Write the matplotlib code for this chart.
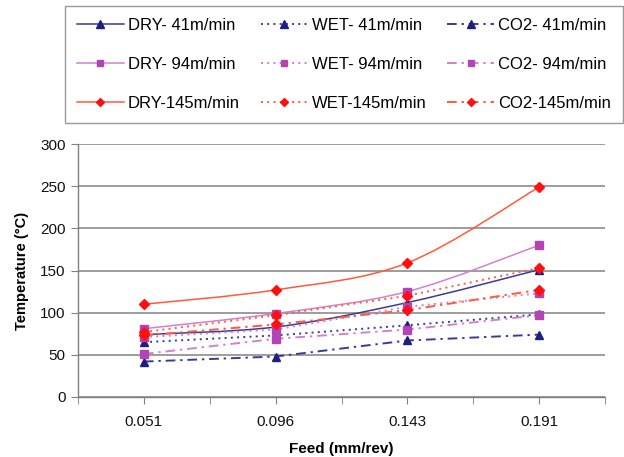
import matplotlib
matplotlib.use("Agg")
import matplotlib.pyplot as plt
from matplotlib.path import Path
from matplotlib.patches import PathPatch
from matplotlib.lines import Line2D
import numpy as np

plt.rcParams['font.family'] = ['Liberation Sans', 'DejaVu Sans']

feeds = ["0.051", "0.096", "0.143", "0.191"]

dry_41 = [74, 83, 112, 151]
wet_41 = [65, 73, 85, 98]
co2_41 = [42, 48, 67, 74]
dry_94 = [81, 99, 125, 180]
wet_94 = [71, 80, 107, 123]
co2_94 = [51, 69, 80, 97]
dry_145 = [110, 127, 159, 249]
wet_145 = [77, 97, 120, 153]
co2_145 = [73, 86, 103, 127]

labels = {
    "dry_41": "DRY- 41m/min", "wet_41": "WET- 41m/min", "co2_41": "CO2- 41m/min",
    "dry_94": "DRY- 94m/min", "wet_94": "WET- 94m/min", "co2_94": "CO2- 94m/min",
    "dry_145": "DRY-145m/min", "wet_145": "WET-145m/min", "co2_145": "CO2-145m/min",
}

navy_line, navy_mk = "#3b3b96", "#1f1f80"
pink_line, pink_mk = "#cf82cf", "#b444b4"
red_line, red_mk = "#ff5a3c", "#ff1010"

dotted = (0, (1, 2.2))
dashdot = (0, (5, 2.5, 1.2, 2.5))

series = [
    ("dry_41", dry_41, navy_line, navy_mk, "-", "^", 6, True),
    ("dry_94", dry_94, pink_line, pink_mk, "-", "s", 5.5, True),
    ("dry_145", dry_145, red_line, red_mk, "-", "D", 5, True),
    ("wet_41", wet_41, navy_line, navy_mk, dotted, "^", 6, False),
    ("wet_94", wet_94, pink_line, pink_mk, dotted, "s", 5.5, False),
    ("wet_145", wet_145, red_line, red_mk, dotted, "D", 5, False),
    ("co2_41", co2_41, navy_line, navy_mk, dashdot, "^", 6, False),
    ("co2_94", co2_94, pink_line, pink_mk, dashdot, "s", 5.5, False),
    ("co2_145", co2_145, red_line, red_mk, dashdot, "D", 5, False),
]

fig = plt.figure(figsize=(6.24, 4.57), dpi=100)
ax = fig.add_axes([78/624, 1-397/457, 527/624, 253/457])

x = np.arange(len(feeds))


def smooth_path(xs, ys):
    pts = np.column_stack([xs, ys]).astype(float)
    n = len(pts)
    verts = [pts[0]]
    codes = [Path.MOVETO]
    for i in range(n - 1):
        p0 = pts[i - 1] if i > 0 else pts[i]
        p1 = pts[i]
        p2 = pts[i + 1]
        p3 = pts[i + 2] if i + 2 < n else pts[i + 1]
        c1 = p1 + (p2 - p0) / 6.0
        c2 = p2 - (p3 - p1) / 6.0
        verts += [c1, c2, p2]
        codes += [Path.CURVE4] * 3
    return Path(verts, codes)


handles = {}
for key, vals, lc, mc, ls, mk, ms, smooth in series:
    if smooth:
        patch = PathPatch(smooth_path(x, vals), fill=False, edgecolor=lc,
                          linewidth=1.1, linestyle=ls, zorder=3)
        ax.add_patch(patch)
        ax.plot(x, vals, linestyle="none", marker=mk, markersize=ms,
                color=mc, zorder=4)
    else:
        ax.plot(x, vals, linestyle=ls, color=lc, linewidth=1.4, zorder=3)
        ax.plot(x, vals, linestyle="none", marker=mk, markersize=ms,
                color=mc, zorder=4)
    handles[key] = Line2D([], [], color=lc, linestyle=ls,
                          linewidth=1.1 if smooth else 1.4,
                          marker=mk, markersize=ms - 0.5,
                          markerfacecolor=mc, markeredgecolor=mc)

ax.set_xlim(-0.5, 3.5)
ax.set_ylim(0, 300)
ax.set_yticks(np.arange(0, 301, 50))
ax.set_xticks(x)
ax.set_xticklabels(feeds)
ax.set_xticks(np.arange(-0.5, 3.51, 0.5), minor=True)
ax.yaxis.grid(True, color="#8c8c8c", linewidth=1.2)
ax.set_axisbelow(True)
for s in ["top", "right"]:
    ax.spines[s].set_visible(False)
for s in ["left", "bottom"]:
    ax.spines[s].set_color("#808080")
    ax.spines[s].set_linewidth(1.0)
ax.tick_params(axis="both", which="both", color="#808080", length=5,
               labelsize=11, labelcolor="#111111")
ax.tick_params(axis="x", which="major", pad=8)
ax.tick_params(axis="y", pad=4)
ax.set_xlabel("Feed (mm/rev)", fontsize=11, fontweight="bold", labelpad=9)
ax.set_ylabel("Temperature (°C)", fontsize=10.5, fontweight="bold", labelpad=8)

order = ["dry_41", "dry_94", "dry_145", "wet_41", "wet_94", "wet_145",
         "co2_41", "co2_94", "co2_145"]
leg = fig.legend([handles[k] for k in order], [labels[k] for k in order],
                 ncol=3, mode="expand",
                 bbox_to_anchor=(65/624, 1-123/457, 558/624, 116/457),
                 loc="lower left", fontsize=12, frameon=True, fancybox=False,
                 edgecolor="#808080", handlelength=2.8, handletextpad=0.25,
                 labelspacing=1.45, borderaxespad=0, borderpad=0.72,
                 numpoints=1)
leg.get_frame().set_linewidth(1.0)

fig.savefig("out.png", dpi=100)
